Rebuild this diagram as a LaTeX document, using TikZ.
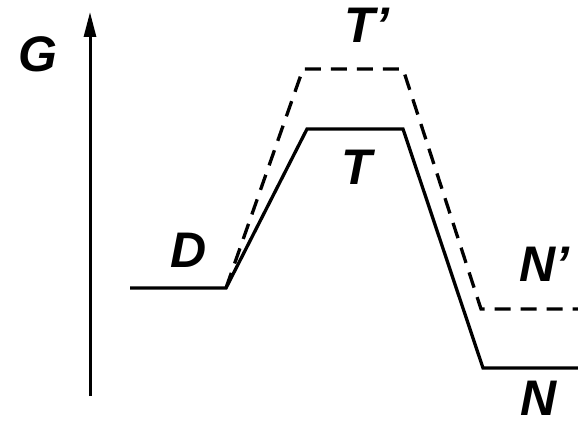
\documentclass[tikz,border=0pt]{standalone}
\usepackage{fontspec}
\setmainfont{Liberation Sans}
\usetikzlibrary{arrows.meta}

\tikzset{
  lbl/.style={font=\fontsize{50}{60}\selectfont\bfseries\itshape, inner sep=0pt},
  profile/.style={line width=3.3pt, line join=miter},
  shifted/.style={profile, dash pattern=on 16pt off 10pt},
}

\begin{document}
\begin{tikzpicture}[x=1pt, y=-1pt]
  \useasboundingbox (0,0) rectangle (578,422);

  % Axis
  \coordinate (axbot) at (90,396);
  \coordinate (axtop) at (90,12);
  \draw[line width=3pt, -{Triangle[length=25pt, width=12pt]}] (axbot) -- (axtop);
  \node[lbl] (g) at (38,54) {G};

  % Solid profile: D -- T -- N
  \coordinate (d0) at (130,288);
  \coordinate (d1) at (226,288);
  \coordinate (t1) at (307,129);
  \coordinate (t2) at (403,129);
  \coordinate (n1) at (483,368);
  \coordinate (n2) at (578,368);
  \draw[profile] (d0) -- (d1) -- (t1) -- (t2) -- (n1) -- (n2);

  % Dashed profile: D -- T' -- N'
  \coordinate (tq1) at (303,69);
  \coordinate (tq2) at (403,69);
  \coordinate (nq1) at (481,309);
  \coordinate (nq2) at (578,309);
  \draw[shifted] (d1) -- (tq1) -- (tq2) -- (nq1) -- (nq2);

  % Labels
  \node[lbl] (d) at (189,250) {D};
  \node[lbl] (t) at (357,167) {T};
  \node[lbl] (tq) at (367,25) {T'};
  \node[lbl] (nq) at (544,264) {N'};
  \node[lbl] (n) at (539,398) {N};
\end{tikzpicture}
\end{document}
